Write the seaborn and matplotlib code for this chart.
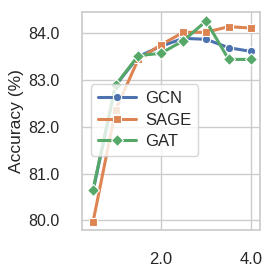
import numpy as np
import pandas as pd
import seaborn as sns
import matplotlib
matplotlib.use("Agg")
import matplotlib.pyplot as plt

x_vals = [0.5, 1.0, 1.5, 2.0, 2.5, 3.0, 3.5, 4.0]
gcn = [80.62, 82.88, 83.50, 83.72, 83.89, 83.87, 83.69, 83.61]
sage = [79.96, 82.36, 83.44, 83.75, 84.02, 84.02, 84.14, 84.11]
gat = [80.65, 82.89, 83.52, 83.57, 83.84, 84.26, 83.44, 83.44]
models = ["GCN", "SAGE", "GAT"]
x_ticks = [2.0, 4.0]
y_ticks = [80.0, 81.0, 82.0, 83.0, 84.0]

df = pd.DataFrame({
    "x": x_vals * 3,
    "acc": gcn + sage + gat,
    "model": sum([[m] * len(x_vals) for m in models], []),
})

sns.set_theme(style="whitegrid")
plt.rcParams["font.family"] = ["Liberation Sans", "DejaVu Sans"]

fig = plt.figure(figsize=(2.75, 2.72), dpi=100)
ax = fig.add_axes([0.297, 0.154, 0.648, 0.803])
sns.lineplot(data=df, x="x", y="acc", hue="model", style="model",
             markers=["o", "s", "D"], dashes=False, linewidth=2.2,
             markersize=6, markeredgecolor="white", markeredgewidth=0.8,
             palette=sns.color_palette("deep", 3), ax=ax)

ax.set_xlim(0.25, 4.19)
ax.set_ylim(79.79, 84.46)
ax.set_xticks(x_ticks)
ax.set_xticklabels([f"{v:.1f}" for v in x_ticks], fontsize=12)
ax.set_yticks(y_ticks)
ax.set_yticklabels([f"{v:.1f}" for v in y_ticks], fontsize=11.5)
ax.tick_params(axis="x", pad=10)
ax.tick_params(axis="y", pad=10)
ax.set_xlabel("")
ax.set_ylabel("Accuracy (%)", fontsize=12.5, labelpad=3)

leg = ax.legend(loc="center left", bbox_to_anchor=(0.052, 0.504), fontsize=12,
                handlelength=2.3, handletextpad=0.55, labelspacing=0.4,
                borderaxespad=0, title=None)

fig.savefig("out.png", dpi=100)
